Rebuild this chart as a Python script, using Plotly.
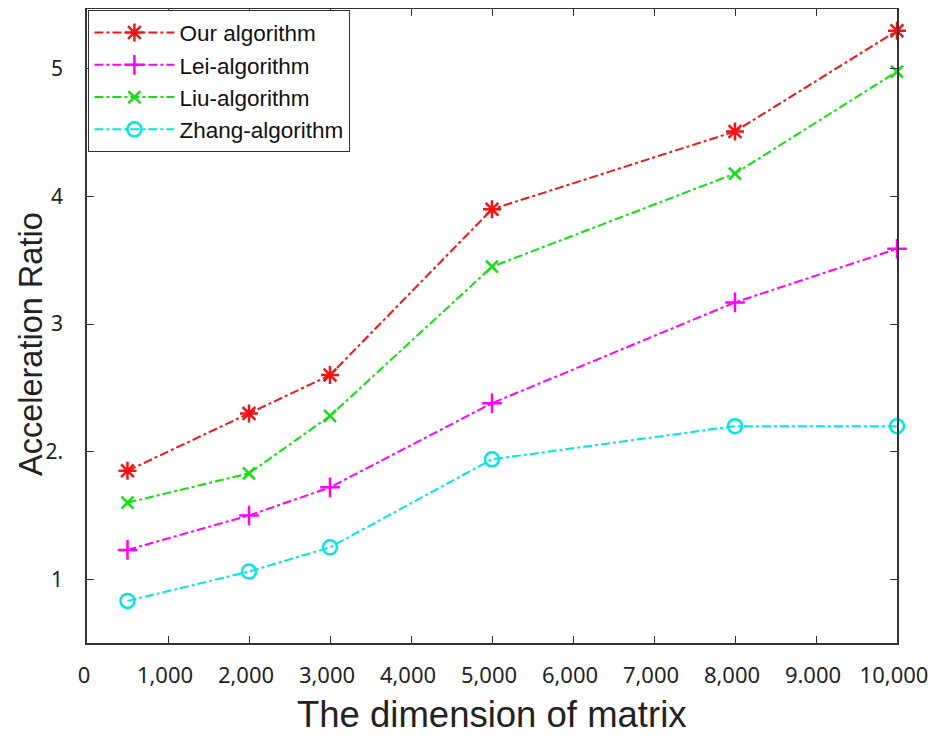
import plotly.graph_objects as go

dims = [500, 2000, 3000, 5000, 8000, 10000]
our_alg = [1.85, 2.30, 2.60, 3.90, 4.51, 5.30]
lei_alg = [1.23, 1.50, 1.72, 2.38, 3.17, 3.59]
liu_alg = [1.60, 1.83, 2.28, 3.45, 4.18, 4.98]
zhang_alg = [0.83, 1.06, 1.25, 1.94, 2.20, 2.20]

x_tickvals = [0, 1000, 2000, 3000, 4000, 5000, 6000, 7000, 8000, 9000, 10000]
x_ticktext = ["0", "1,000", "2,000", "3,000", "4,000", "5,000", "6,000", "7,000", "8,000", "9.000", "10,000"]
y_tickvals = [1, 2, 3, 4, 5]
y_ticktext = ["1", "2.", "3", "4", "5"]

series = [
    ("Our algorithm", our_alg, "#f01515", "asterisk-open", 15),
    ("Lei-algorithm", lei_alg, "#ff00ff", "cross-thin-open", 14),
    ("Liu-algorithm", liu_alg, "#10e010", "x-thin-open", 12),
    ("Zhang-algorithm", zhang_alg, "#00e5e5", "circle-open", 14),
]

fig = go.Figure()
for name, vals, color, sym, size in series:
    fig.add_trace(go.Scatter(
        x=dims, y=vals, name=name, mode="lines+markers",
        line=dict(color=color, width=2, dash="dashdot"),
        marker=dict(symbol=sym, size=size, color=color, line=dict(color=color, width=2.5)),
        cliponaxis=False,
    ))

fig.update_layout(
    width=950, height=736,
    margin=dict(l=79, r=61, t=1, b=101),
    paper_bgcolor="white", plot_bgcolor="white",
    font=dict(family="Liberation Sans, Arial, sans-serif", color="#222222"),
    legend=dict(
        x=0.0015, y=0.998, xanchor="left", yanchor="top",
        bordercolor="#333333", borderwidth=1.2, bgcolor="white",
        font=dict(size=22.5, family="Liberation Sans, Arial, sans-serif", color="#111111"),
        tracegroupgap=0, itemwidth=80,
    ),
    xaxis=dict(
        range=[0, 10000], tickvals=x_tickvals, ticktext=x_ticktext,
        ticks="inside", ticklen=7, tickcolor="#333333",
        showline=True, linecolor="#333333", linewidth=1.5, mirror="ticks",
        showgrid=False, zeroline=False, automargin=False,
        ticklabelstandoff=12, ticklabelshift=-3,
        tickfont=dict(size=22, family="Noto Sans, Open Sans, sans-serif", color="#222222"),
    ),
    yaxis=dict(
        range=[0.5, 5.47], tickvals=y_tickvals, ticktext=y_ticktext,
        ticks="inside", ticklen=7, tickcolor="#333333",
        showline=True, linecolor="#333333", linewidth=1.5, mirror="ticks",
        showgrid=False, zeroline=False, automargin=False,
        ticklabelstandoff=18,
        tickfont=dict(size=21, family="Noto Sans, Open Sans, sans-serif", color="#222222"),
    ),
    annotations=[
        dict(text="The dimension of matrix", xref="paper", yref="paper",
             x=0.5, y=-0.112, xanchor="center", yanchor="middle", showarrow=False,
             font=dict(size=36.5, color="#222222", family="Liberation Sans, Arial, sans-serif")),
        dict(text="Acceleration Ratio", xref="paper", yref="paper",
             x=-0.0691, y=0.4716, xanchor="center", yanchor="middle", showarrow=False,
             textangle=-90,
             font=dict(size=32.5, color="#222222", family="Liberation Sans, Arial, sans-serif")),
    ],
)

fig.write_html("out.html")
